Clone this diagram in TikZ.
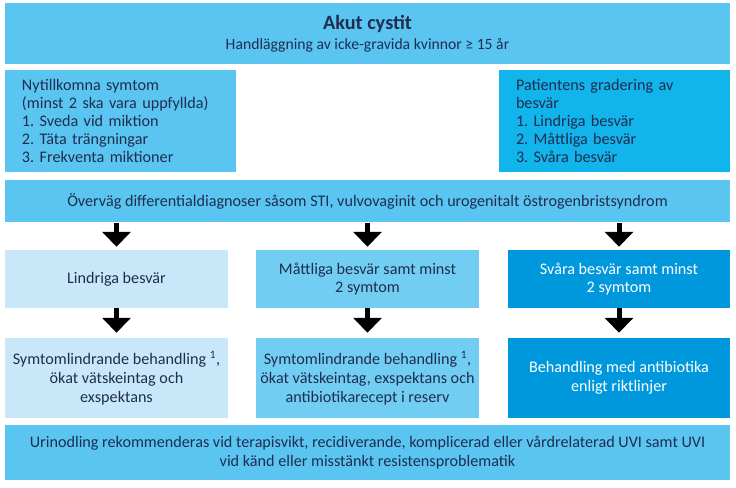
\documentclass[tikz,border=0pt]{standalone}
\usepackage{fontspec}
\setmainfont{Carlito}
\usepackage{xcolor}
\definecolor{cystblue}{HTML}{5BC5F2}
\definecolor{cystgrade}{HTML}{12B4EC}
\definecolor{cystpale}{HTML}{C8E8F9}
\definecolor{cystmid}{HTML}{72CDF3}
\definecolor{cystdeep}{HTML}{0098DC}
\definecolor{cystnavy}{HTML}{1F2D4F}
\usepackage{tikz}
\usetikzlibrary{arrows.meta,positioning}
\frenchspacing
\tikzset{
  cystbox/.style={
    fill=#1, draw=none, text=cystnavy, inner sep=0pt,
    align=center, font=\fontsize{13.8}{15.5}\selectfont
  },
  widebox/.style={
    cystbox=#1, minimum width=21.75cm
  },
  listbox/.style={
    cystbox=#1, minimum width=6.93cm, minimum height=3.06cm,
    text width=5.91cm, align=left, inner xsep=0.51cm
  },
  stepbox/.style={
    cystbox=#1, minimum width=6.69cm, minimum height=1.74cm
  },
  treatbox/.style={
    cystbox=#1, minimum width=6.69cm, minimum height=2.4cm,
    font=\fontsize{13.8}{16.2}\selectfont
  },
  blockarr/.style={
    draw=black, line width=0.15cm,
    -{Triangle[width=0.84cm,length=0.45cm]}
  }
}

\begin{document}
\begin{tikzpicture}[x=0.03cm, y=-0.03cm]
  \useasboundingbox (0,0) rectangle (736,488);

  % header
  \node[widebox=cystblue, minimum height=1.83cm] (title) at (367.5,33.5)
    {{\fontsize{17.3}{17}\selectfont\bfseries Akut cystit}\\[2pt]
     {\fontsize{13.4}{15}\selectfont Handläggning av icke-gravida kvinnor ≥ 15 år}};

  \node[listbox=cystblue] (symtom) at (120.5,121)
    {Nytillkomna symtom\\ (minst 2 ska vara uppfyllda)\\ 1. Sveda vid miktion\\
     2. Täta trängningar\\ 3. Frekventa miktioner};
  \node[listbox=cystgrade] (grad) at (614.5,121)
    {Patientens gradering av\\ besvär\\ 1. Lindriga besvär\\
     2. Måttliga besvär\\ 3. Svåra besvär};

  \node[widebox=cystblue, minimum height=1.26cm] (diff) at (367.5,201)
    {Överväg differentialdiagnoser såsom STI, vulvovaginit och urogenitalt östrogenbristsyndrom};

  % grading
  \node[stepbox=cystpale] (lind)  at (116.5,279) {Lindriga besvär};
  \node[stepbox=cystmid]  (mattl) at (367.5,279) {Måttliga besvär samt minst\\ 2 symtom};
  \node[stepbox=cystdeep, minimum width=6.66cm, text=white] (svara) at (619,279)
    {Svåra besvär samt minst\\ 2 symtom};

  % treatment
  \node[treatbox=cystpale] (lindbeh)  at (116.5,378)
    {Symtomlindrande behandling \textsuperscript{1},\\ ökat vätskeintag och\\ exspektans};
  \node[treatbox=cystmid]  (mattlbeh) at (367.5,378)
    {Symtomlindrande behandling \textsuperscript{1},\\ ökat vätskeintag, exspektans och\\ antibiotikarecept i reserv};
  \node[treatbox=cystdeep, minimum width=6.66cm, text=white] (svarabeh) at (619,378)
    {Behandling med antibiotika\\ enligt riktlinjer};

  \node[widebox=cystblue, minimum height=1.65cm, font=\fontsize{13.8}{16.2}\selectfont] (urin) at (367.5,452.5)
    {Urinodling rekommenderas vid terapisvikt, recidiverande, komplicerad eller vårdrelaterad UVI samt UVI\\
     vid känd eller misstänkt resistensproblematik};

  \foreach \col in {lind,mattl,svara}
    \draw[blockarr, shorten <=0.03cm, shorten >=0.09cm] (diff.south -| \col.north) -- (\col.north);
  \foreach \col in {lind,mattl,svara}
    \draw[blockarr, shorten >=0.15cm] (\col.south) -- (\col beh.north);
\end{tikzpicture}
\end{document}
